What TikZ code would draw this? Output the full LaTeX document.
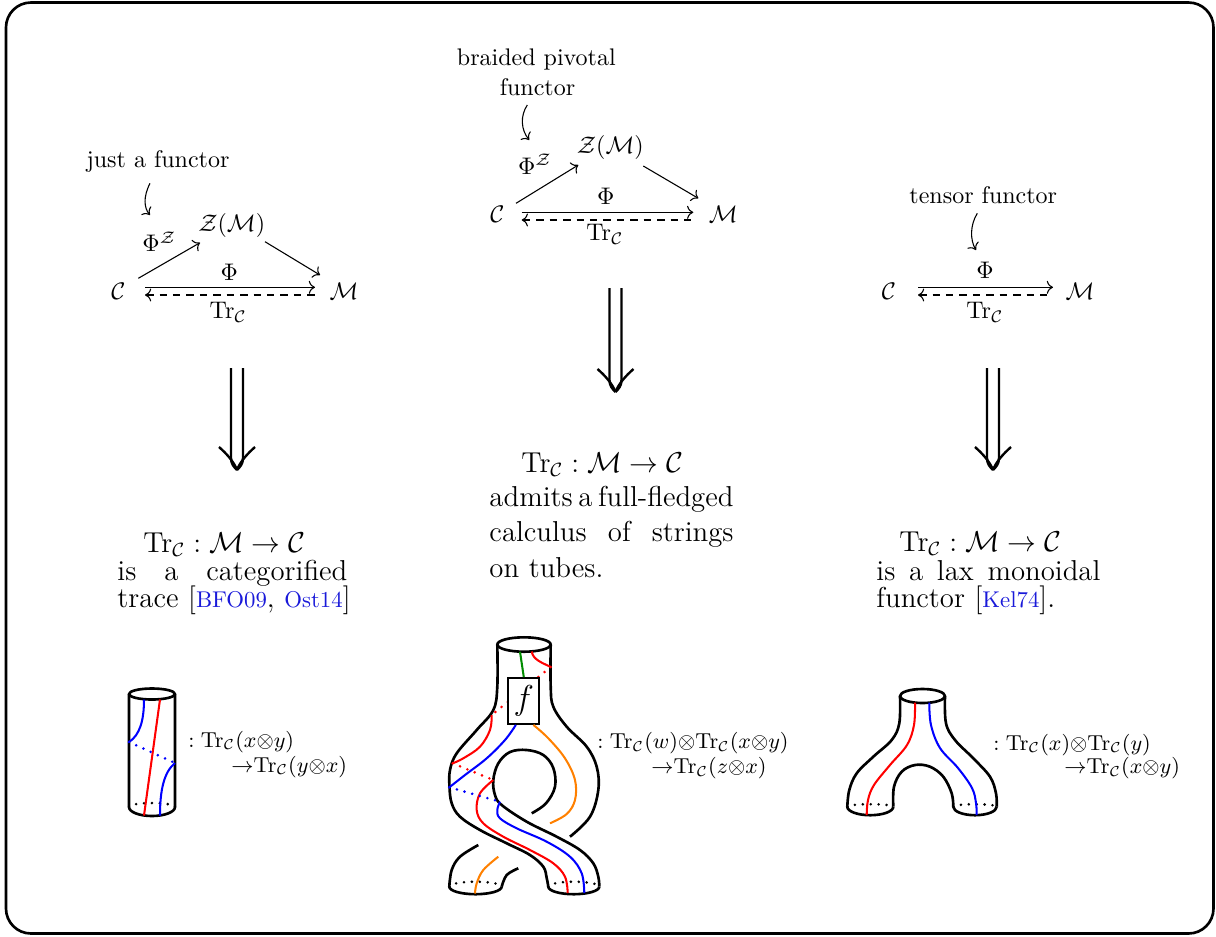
\documentclass[tikz,border=0pt]{standalone}
\usepackage{amsmath}
\usetikzlibrary{arrows.meta}
\definecolor{cgreen}{rgb}{0,0.55,0}
\definecolor{corange}{rgb}{1,0.5,0}
\definecolor{cblue}{rgb}{0,0,1}
\definecolor{cred}{rgb}{1,0,0}
\definecolor{citeblue}{rgb}{0.1,0.1,0.85}
\newcommand{\dblimplies}[3]{%
  \draw[dblline] (#1-6,#2) -- (#1-6,#3-12) .. controls (#1-6,#3-6) and (#1-3,#3-3) .. (#1,#3);
  \draw[dblline] (#1+6,#2) -- (#1+6,#3-12) .. controls (#1+6,#3-6) and (#1+3,#3-3) .. (#1,#3);
  \draw[dblline] (#1-18,#3-23) .. controls (#1-10,#3-16) and (#1-3,#3-8) .. (#1,#3);
  \draw[dblline] (#1+18,#3-23) .. controls (#1+10,#3-16) and (#1+3,#3-8) .. (#1,#3);
}
\newcommand{\jline}[2]{\makebox[#1][s]{\spaceskip=1pt plus 1fil\relax #2}}
\newcommand{\citekey}[1]{{\fontsize{9.5}{11}\selectfont\textcolor{citeblue}{#1}}}
\begin{document}
\begin{tikzpicture}[x=0.4167pt,y=-0.4167pt,
  lbl/.style={inner sep=0pt},
  arr/.style={->, line width=0.45pt},
  darr/.style={<-, line width=0.45pt, dash pattern=on 3.1pt off 2.5pt},
  dblline/.style={line width=1pt},
  para/.style={inner sep=0pt, anchor=base west, align=left, text width=130pt},
  lab/.style={inner sep=0pt, anchor=west, font=\small},
  tubeline/.style={line width=1.1pt, line join=round},
  strg/.style={line width=0.85pt},
  backdots/.style={line width=1.2pt, line cap=round, dash pattern=on 0pt off 3.3pt},
  fbox/.style={draw, fill=white, line width=0.9pt, inner sep=0pt, minimum width=12.9pt, minimum height=19pt, font=\Large}
]
\useasboundingbox (0,0) rectangle (1216,936);
\draw[line width=1.1pt, rounded corners=10.4pt] (6,2.5) rectangle (1213.5,933.5);

% ================= LEFT TOP =================
\node[lbl] (C1) at (118.3,290.8) {$\mathcal{C}$};
\node[lbl] (M1) at (344,290.8) {$\mathcal{M}$};
\node[lbl] (Z1) at (231.7,225.3) {$\mathcal{Z}(\mathcal{M})$};
\node[lbl] (PZ1) at (159.3,241.7) {$\Phi^{\mathcal{Z}}$};
\node[lbl] (P1) at (229.2,272.2) {$\Phi$};
\node[lbl] (T1) at (228.3,312.5) {$\mathrm{Tr}_{\mathcal{C}}$};
\node[lbl,anchor=base] (N1) at (158,167.3) {just a functor};
\draw[arr] ([shift={(20,-12.5)}]C1.center) -- ([shift={(-31.7,17.4)}]Z1.center);
\draw[arr] ([shift={(33.3,16.4)}]Z1.center) -- ([shift={(-24,-15.8)}]M1.center);
\draw[arr] ([shift={(26.7,-3.5)}]C1.center) -- ([shift={(-29,-3.5)}]M1.center);
\draw[darr] ([shift={(26.7,4.2)}]C1.center) -- ([shift={(-29,4.2)}]M1.center);
\draw[arr] ([shift={(-8,16)}]N1.base) .. controls (143,197) and (144,208) .. ([shift={(-9.3,-26.7)}]PZ1.center);

% ================= MIDDLE TOP =================
\node[lbl] (C2) at (497.5,214) {$\mathcal{C}$};
\node[lbl] (M2) at (723.3,214) {$\mathcal{M}$};
\node[lbl] (Z2) at (610.3,147.3) {$\mathcal{Z}(\mathcal{M})$};
\node[lbl] (PZ2) at (535,164) {$\Phi^{\mathcal{Z}}$};
\node[lbl] (P2) at (605.8,196.7) {$\Phi$};
\node[lbl] (T2) at (605,234) {$\mathrm{Tr}_{\mathcal{C}}$};
\node[lbl,anchor=base] (N2a) at (536.3,65) {braided pivotal};
\node[lbl,anchor=base] (N2b) at (537.5,95) {functor};
\draw[arr] ([shift={(18.5,-10.7)}]C2.center) -- ([shift={(-32,17.7)}]Z2.center);
\draw[arr] ([shift={(33,18.7)}]Z2.center) -- ([shift={(-25,-15.7)}]M2.center);
\draw[arr] ([shift={(24.2,-1.7)}]C2.center) -- ([shift={(-30,-1.7)}]M2.center);
\draw[darr] ([shift={(24.2,6)}]C2.center) -- ([shift={(-30,6)}]M2.center);
\draw[arr] ([shift={(-10.2,10)}]N2b.base) .. controls (520,116) and (521,130) .. ([shift={(-5.7,-24)}]PZ2.center);

% ================= RIGHT TOP =================
\node[lbl] (C3) at (889,290.8) {$\mathcal{C}$};
\node[lbl] (M3) at (1080,290.8) {$\mathcal{M}$};
\node[lbl] (P3) at (985,270) {$\Phi$};
\node[lbl] (T3) at (985,312.5) {$\mathrm{Tr}_{\mathcal{C}}$};
\node[lbl,anchor=base] (N3) at (983.3,203.3) {tensor functor};
\draw[arr] ([shift={(29,-3.5)}]C3.center) -- ([shift={(-27,-3.5)}]M3.center);
\draw[darr] ([shift={(29,4.2)}]C3.center) -- ([shift={(-27,4.2)}]M3.center);
\draw[arr] ([shift={(-6,10)}]N3.base) .. controls (970,225) and (970,240) .. ([shift={(-9,-20)}]P3.center);

% ================= DOUBLE ARROWS =================
\dblimplies{237}{368}{470}
\dblimplies{615.5}{288}{392}
\dblimplies{993}{368}{470}

% ================= TEXT BLOCKS =================
\node[lbl, anchor=base, font=\large] (L1) at (224.5,552) {$\mathrm{Tr}_{\mathcal{C}}:\mathcal{M}\to\mathcal{C}$};
\node[para, font=\fontsize{12}{11.5}\selectfont] (L2) at (117,580.3)
  {\jline{95.8pt}{is a categorified}\\ trace [\citekey{BFO09}, \citekey{Ost14}]};
\node[lbl, anchor=base, font=\large] (Mt1) at (602.5,472.3) {$\mathrm{Tr}_{\mathcal{C}}:\mathcal{M}\to\mathcal{C}$};
\node[para, font=\fontsize{12}{14.85}\selectfont] (Mt2) at (489,506.2)
  {\jline{101.7pt}{admits a full-fledged}\\ \jline{101.7pt}{calculus of strings}\\ on tubes.};
\node[lbl, anchor=base, font=\large] (R1) at (980.5,551) {$\mathrm{Tr}_{\mathcal{C}}:\mathcal{M}\to\mathcal{C}$};
\node[para, font=\fontsize{12}{11.5}\selectfont] (R2) at (876,580.3)
  {\jline{93.3pt}{is a lax monoidal}\\ functor [\citekey{Kel74}].};

% ================= LEFT TUBE =================
\draw[tubeline] (152,694) ellipse [x radius=23, y radius=5.5];
\draw[tubeline] (129,694) -- (129,807) arc[start angle=180, end angle=0, x radius=23, y radius=9] -- (175,694);
\draw[backdots] (129,807) arc[start angle=180, end angle=360, x radius=23, y radius=4];
\draw[strg, cred] (160,699.5) -- (144,815.5);
\draw[strg, cblue] (144,699.5) .. controls (144,720) and (140,735) .. (129,742);
\draw[backdots, cblue] (129,742) -- (175,763);
\draw[strg, cblue] (175,763) .. controls (164,772) and (160,790) .. (160,815.5);
\node[lab] (LT1) at (188,741.7) {$:\mathrm{Tr}_{\mathcal{C}}(x{\otimes}y)$};
\node[lab] (LT2) at (231,766.7) {${\to}\mathrm{Tr}_{\mathcal{C}}(y{\otimes}x)$};

% ================= MIDDLE TUBE =================
\draw[tubeline] (524,644.5) ellipse [x radius=26.7, y radius=7.2];
% left outer contour -> front strand lower edge -> right foot
\draw[tubeline] plot[smooth, tension=0.6] coordinates {(497.3,644.5) (497.3,686.7) (493.3,710) (476.7,730) (456.7,753.3) (450,770) (449.5,786.7) (451.7,803.3) (460,816.7) (480,830) (506.7,843.3) (530,855) (543.3,866.7) (546.7,878) (548.3,886.7)};
% right outer contour (goes behind)
\draw[tubeline] plot[smooth, tension=0.6] coordinates {(550.7,644.5) (550.7,686.7) (553.3,706.7) (566.7,726.7) (586.7,746.7) (596.7,766.7) (598.3,790) (590,816.7) (570,836.7)};
% hole -> front strand upper edge
\draw[tubeline] plot[smooth, tension=0.6] coordinates {(531.7,813.3) (546,803.3) (555,786.7) (553.3,768) (543.3,755) (526.7,750) (510,752) (498.3,763.3) (493.3,780) (495,795) (501.7,805) (526.7,821.7) (556.7,836.7) (580,850) (593.3,863.3) (598.3,876.7) (599.3,886.7)};
% back strand continuations
\draw[tubeline] plot[smooth, tension=0.6] coordinates {(518.3,868.3) (506.7,875) (501.7,886.7)};
\draw[tubeline] plot[smooth, tension=0.6] coordinates {(478.3,845) (460,856.7) (451.7,870) (449.3,886.7)};
% feet
\draw[tubeline] (449.3,886.7) arc[start angle=180, end angle=0, x radius=26.2, y radius=7.5];
\draw[backdots] (449.3,886.7) arc[start angle=180, end angle=360, x radius=26.2, y radius=5];
\draw[tubeline] (548.3,886.7) arc[start angle=180, end angle=0, x radius=25.5, y radius=7.5];
\draw[backdots] (548.3,886.7) arc[start angle=180, end angle=360, x radius=25.5, y radius=5];
% strings
\draw[backdots, cred] (550.7,667) -- (491.7,715);
\node[fbox] (fb) at (523.8,701) {$f$};
\draw[strg, cgreen] (520,651.7) -- (fb.north);
\draw[strg, cred] (531.7,651.5) .. controls (533,660) and (543,663) .. (550.7,667);
\draw[strg, cred] plot[smooth, tension=0.6] coordinates {(491.7,715) (490,730) (480,746.7) (463.3,758.3) (452.7,763.3)};
\draw[backdots, cred] (452.7,763.3) -- (493.3,780);
\draw[strg, cred] plot[smooth, tension=0.6] coordinates {(493.3,780) (480,793.3) (476.7,810) (483.3,823.3) (503.3,836.7) (530,850) (553.3,863.3) (565,876.7) (567.7,893)};
\draw[strg, cblue] plot[smooth, tension=0.6] coordinates {([xshift=-3.3pt]fb.south) (505,740) (486.7,758.3) (465,775) (449.3,787.3)};
\draw[backdots, cblue] (449.3,787.3) -- (500,801.7);
\draw[strg, cblue] plot[smooth, tension=0.6] coordinates {(500,801.7) (497.3,810) (500,818.3) (516.7,828.3) (546.7,841.7) (570,856.7) (581.7,873.3) (584.3,893)};
\draw[strg, corange] plot[smooth, tension=0.6] coordinates {([xshift=4pt]fb.south) (548.3,738.3) (565,758.3) (575,780) (575,800) (566.7,814) (550,823.3)};
\draw[strg, corange] plot[smooth, tension=0.6] coordinates {(498.3,856.7) (483.3,870) (476.7,883.3) (475,893.5)};
\node[lab] (MT1) at (597,743.3) {$:\mathrm{Tr}_{\mathcal{C}}(w){\otimes}\mathrm{Tr}_{\mathcal{C}}(x{\otimes}y)$};
\node[lab] (MT2) at (651,768.3) {${\to}\mathrm{Tr}_{\mathcal{C}}(z{\otimes}x)$};

% ================= RIGHT TUBE =================
\draw[tubeline] (922.5,696) ellipse [x radius=22.5, y radius=7];
\draw[tubeline] plot[smooth, tension=0.6] coordinates {(900,696) (899.3,723.3) (891.7,740) (873.3,756.7) (856.7,773.3) (849.3,790) (847.3,806.7)};
\draw[tubeline] plot[smooth, tension=0.6] coordinates {(945,696) (946,723.3) (955,740) (973.3,758.3) (990,776.7) (996,793.3) (996.7,806.7)};
\draw[tubeline] plot[smooth, tension=0.6] coordinates {(893.3,806.7) (894,786.7) (901.7,771.7) (915,765) (930,766.7) (943.3,776.7) (951.7,793.3) (953.3,806.7)};
\draw[tubeline] (847.3,806.7) arc[start angle=180, end angle=0, x radius=23, y radius=8.5];
\draw[backdots] (847.3,806.7) arc[start angle=180, end angle=360, x radius=23, y radius=2.5];
\draw[tubeline] (953.3,806.7) arc[start angle=180, end angle=0, x radius=21.7, y radius=8.5];
\draw[backdots] (953.3,806.7) arc[start angle=180, end angle=360, x radius=21.7, y radius=2.5];
\draw[strg, cred] plot[smooth, tension=0.6] coordinates {(915,702.7) (914,725) (907,745) (890,765) (874,785) (868,800) (866.7,815)};
\draw[strg, cblue] plot[smooth, tension=0.6] coordinates {(929.3,702.7) (931,725) (940,748) (958,768) (972,788) (976,803) (976.7,815)};
\node[lab] (RT1) at (993,745) {$:\mathrm{Tr}_{\mathcal{C}}(x){\otimes}\mathrm{Tr}_{\mathcal{C}}(y)$};
\node[lab] (RT2) at (1064,768.3) {${\to}\mathrm{Tr}_{\mathcal{C}}(x{\otimes}y)$};
\end{tikzpicture}
\end{document}
